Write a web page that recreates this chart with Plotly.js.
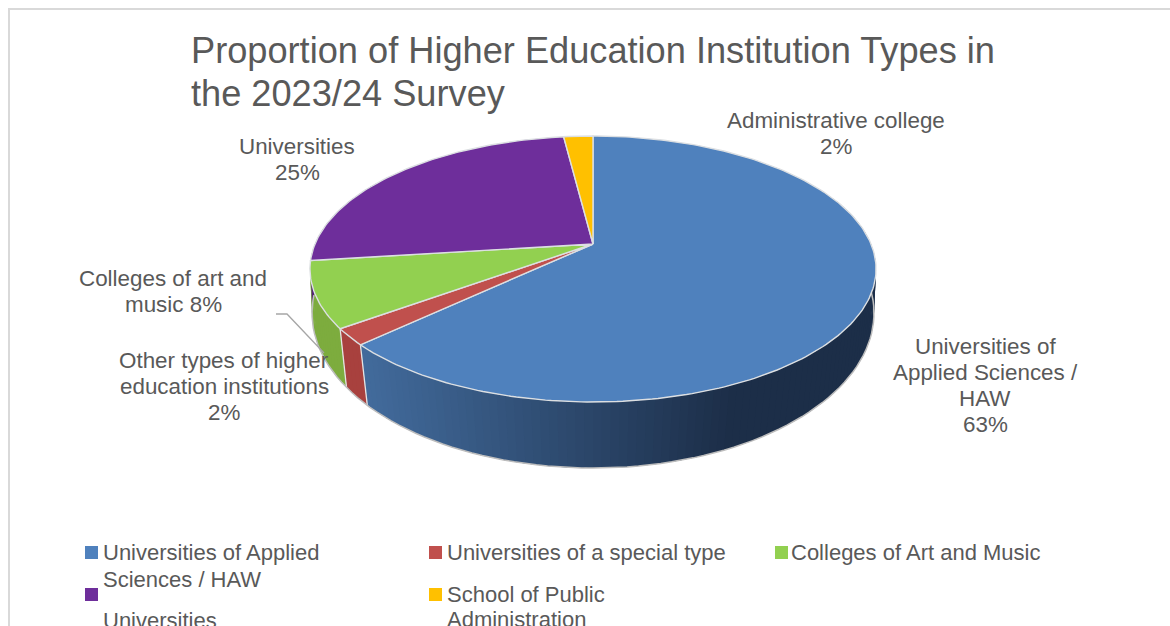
<!DOCTYPE html>
<html>
<head>
<meta charset="utf-8">
<script src="https://cdn.plot.ly/plotly-3.0.1.min.js"></script>
<style>html,body{margin:0;padding:0;background:#fff;overflow:hidden}</style>
</head>
<body>
<div id="chart" style="width:1170px;height:626px"></div>
<script>
// Survey shares, in percent, clockwise from twelve o'clock
const sliceLabels = [
  "Universities of<br>Applied Sciences /<br>HAW<br>",
  "Other types of higher<br>education institutions<br>",
  "Colleges of art and<br>music ",
  "Universities<br>",
  "Administrative college<br>"
];
const shares = [63, 2, 8, 25, 2];
const topColours = ["#4f81bd", "#c0504d", "#92d050", "#6e2e9b", "#ffc000"];
const legendNames = [
  "Universities of Applied<br>Sciences / HAW",
  "Universities of a special type",
  "Colleges of Art and Music",
  "Universities",
  "School of Public<br>Administration"
];
const chartTitle = "Proportion of Higher Education Institution Types in<br>the 2023/24 Survey";

// Perspective projection of the disc: top face and base use separate foreshortening
const TOP = {cx: 593, y0: 244, R: 278, S: 128.3, k: 0.188};
const BASE = {cx: 593, y0: 289.8, R: 277.8, S: 151.5, k: 0.15};
const project = (disc, deg) => {
  const a = deg * Math.PI / 180, u = Math.sin(a), v = -Math.cos(a), w = 1 - disc.k * v;
  return [disc.cx + disc.R * u / w, disc.y0 + disc.S * v / w];
};

const mix = (a, b, t) => a.map((c, i) => Math.round(c + (b[i] - c) * t));
const rgb = c => `rgb(${c[0]},${c[1]},${c[2]})`;

// Shading of the side wall, per slice, from the left-hand light to the right-hand shadow
const wallShade = [
  x => { const t = Math.min(1, Math.max(0, (x - 360) / 370)); return mix([66, 107, 156], [28, 46, 72], t); },
  () => [168, 65, 62],
  () => [125, 172, 62],
  () => [84, 36, 118],
  () => [190, 144, 0]
];

const traces = [];
const bounds = [0];
shares.forEach(s => bounds.push(bounds[bounds.length - 1] + s * 3.6));
const step = 1.5;

// Side wall, one narrow strip per step; each strip runs under the next to hide seams
shares.forEach((s, i) => {
  const from = bounds[i], to = bounds[i + 1];
  for (let d = from; d < to; d += step) {
    const e = Math.min(to, d + step + 1);
    if (e < 70 || d > 300) continue;
    const p = [project(TOP, d), project(TOP, e), project(BASE, e), project(BASE, d)];
    const colour = rgb(wallShade[i]((p[0][0] + p[1][0]) / 2));
    traces.push({
      type: "scatter", mode: "lines", fill: "toself", fillcolor: colour,
      x: p.map(q => q[0]).concat(p[0][0]), y: p.map(q => q[1]).concat(p[0][1]),
      line: {width: 0}, hoverinfo: "skip", showlegend: false
    });
  }
});

// Light seams between neighbouring wall sections
[bounds[1], bounds[2]].forEach(d => {
  const a = project(TOP, d), b = project(BASE, d);
  traces.push({type: "scatter", mode: "lines", x: [a[0], b[0]], y: [a[1], b[1]],
    line: {color: "#e4e4e4", width: 1.3}, hoverinfo: "skip", showlegend: false});
});

// Grey rim along the foot of the wall
const foot = [];
for (let d = 72; d <= 268; d += 2) foot.push(project(BASE, d));
traces.push({type: "scatter", mode: "lines", x: foot.map(q => q[0]), y: foot.map(q => q[1]),
  line: {color: "#bdbdbd", width: 1.5}, hoverinfo: "skip", showlegend: false});

// Top face, one filled sector per share
shares.forEach((s, i) => {
  const pts = [[TOP.cx, TOP.y0]];
  for (let d = bounds[i]; d < bounds[i + 1]; d += 1) pts.push(project(TOP, d));
  pts.push(project(TOP, bounds[i + 1]), [TOP.cx, TOP.y0]);
  traces.push({
    type: "scatter", mode: "lines", fill: "toself", fillcolor: topColours[i],
    x: pts.map(q => q[0]), y: pts.map(q => q[1]),
    line: {color: "#dcdfe2", width: 1.4}, name: legendNames[i].replace(/<br>/g, " "),
    hovertemplate: s + "%<extra></extra>", showlegend: false
  });
});

const ink = "#595959";
const fontFamily = "Liberation Sans, Arial, sans-serif";
const annotations = [];
// Draws a block of lines with a fixed leading, so the spacing is independent of font size
const block = (text, x, firstY, leading, anchor, size) => {
  text.split("<br>").forEach((line, n) => annotations.push({
    text: line, x, y: firstY + n * leading, xref: "x", yref: "y",
    xanchor: anchor, yanchor: "middle", showarrow: false,
    font: {family: fontFamily, size, color: ink}
  }));
};

// Slice labels carry the share from the data
const labelSpots = [[985, 346], [224, 360], [173, 278], [297, 146], [836, 120.5]];
sliceLabels.forEach((t, i) => block(t + shares[i] + "%", labelSpots[i][0], labelSpots[i][1], 26, "center", 22.4));

// Legend entries: key corner, then text origin
const legendSpots = [[85, 546, 103, 552, 27], [429, 546, 447, 552, 0], [775, 546, 791, 552, 0], [85, 588, 103, 620, 0], [429, 588, 447, 594, 25]];
legendNames.forEach((t, i) => block(t, legendSpots[i][2] - 2, legendSpots[i][3], legendSpots[i][4], "left", 22));

const shapes = legendSpots.map((s, i) => ({
  type: "rect", xref: "x", yref: "y", x0: s[0], x1: s[0] + 13, y0: s[1], y1: s[1] + 13,
  fillcolor: topColours[i], line: {width: 0}
}));
// Frame of the chart area
shapes.push({type: "path", xref: "x", yref: "y", path: "M 9 640 L 9 9 L 1180 9", line: {color: "#d9d9d9", width: 2}});
// Leader line for the smallest label
shapes.push({type: "path", xref: "x", yref: "y", path: "M 276 314 L 287 314 L 324 353", line: {color: "#a6a6a6", width: 1.3}});

const layout = {
  width: 1170, height: 626,
  margin: {l: 0, r: 0, t: 0, b: 0},
  paper_bgcolor: "#ffffff", plot_bgcolor: "#ffffff",
  xaxis: {range: [0, 1170], visible: false, fixedrange: true},
  yaxis: {range: [626, 0], visible: false, fixedrange: true},
  showlegend: false,
  title: {
    text: chartTitle, x: 191 / 1170, xanchor: "left", xref: "paper",
    y: 1 - 63 / 626, yanchor: "top", yref: "paper",
    font: {family: fontFamily, size: 36.2, color: ink}
  },
  annotations, shapes
};

Plotly.newPlot("chart", traces, layout, {displayModeBar: false, staticPlot: true}).then(() => {
  // Tighter leading for the two-line heading
  document.querySelectorAll(".gtitle tspan.line").forEach((t, i) => {
    if (i > 0) t.setAttribute("dy", "43px");
  });
});
</script>
</body>
</html>
